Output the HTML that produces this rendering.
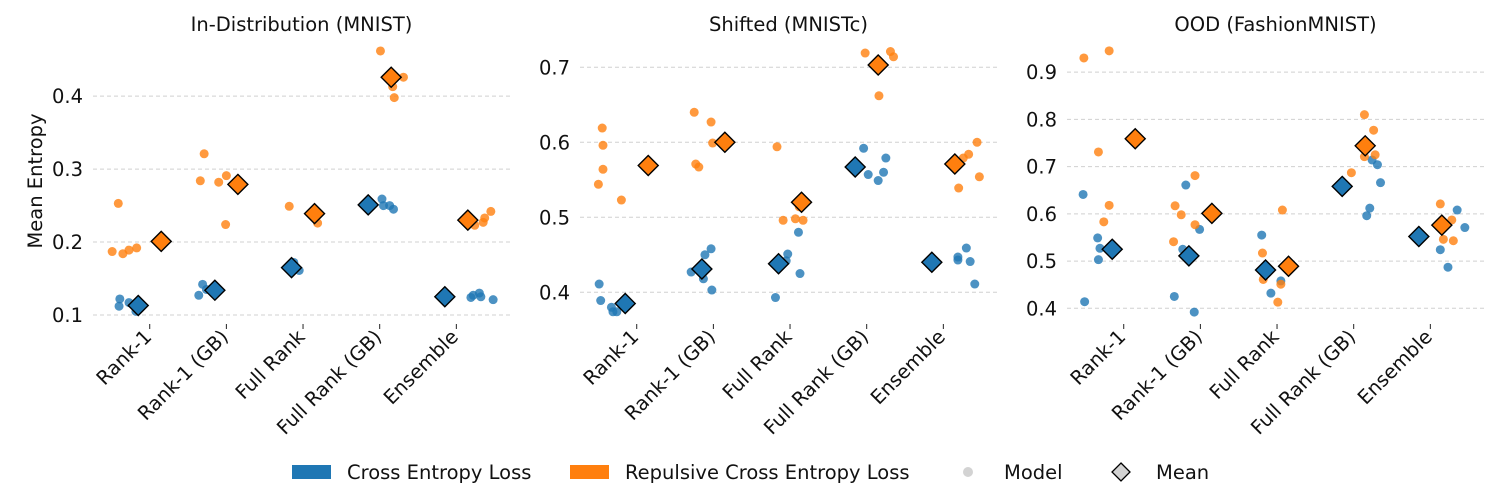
<!DOCTYPE html>
<html><head><meta charset="utf-8">
<style>
html,body{margin:0;padding:0;background:#fff;}
svg{display:block;font-family:"DejaVu Sans","Liberation Sans",sans-serif;}
</style></head>
<body>
<svg id="chart" width="1500" height="500" viewBox="0 0 1500 500" xmlns="http://www.w3.org/2000/svg">
<text transform="translate(42,181) rotate(-90)" text-anchor="middle" font-size="19.5" fill="#111">Mean Entropy</text>
<g font-size="19.5" fill="#111">
<rect x="292" y="465" width="39" height="14" fill="#1f77b4"/>
<text x="347" y="479">Cross Entropy Loss</text>
<rect x="570" y="465" width="39" height="14" fill="#ff7f0e"/>
<text x="625" y="479">Repulsive Cross Entropy Loss</text>
<circle cx="968" cy="472" r="5" fill="#d3d3d3"/>
<text x="1004" y="479">Model</text>
<polygon points="1121,463 1130,472 1121,481 1112,472" fill="#d3d3d3" stroke="#000" stroke-width="1.3"/>
<text x="1156" y="479">Mean</text>
</g>
</svg>
<script>
const categories = ["Rank-1","Rank-1 (GB)","Full Rank","Full Rank (GB)","Ensemble"];
const panelTitles = ["In-Distribution (MNIST)","Shifted (MNISTc)","OOD (FashionMNIST)"];
const yTicks = [[0.1,0.2,0.3,0.4],[0.4,0.5,0.6,0.7],[0.4,0.5,0.6,0.7,0.8,0.9]];
const yTickLabels = [["0.1","0.2","0.3","0.4"],["0.4","0.5","0.6","0.7"],["0.4","0.5","0.6","0.7","0.8","0.9"]];
const yLims = [[0.0904,0.477],[0.3604,0.7364],[0.371,0.968]];

const ceVals = [
 [[0.122,0.112,0.117,0.105],[0.142,0.127,0.135],[0.172,0.161,0.165],[0.259,0.250,0.250,0.245],[0.124,0.127,0.130,0.125,0.121]],
 [[0.411,0.389,0.380,0.374,0.374],[0.427,0.450,0.458,0.418,0.403],[0.393,0.451,0.442,0.480,0.425],[0.592,0.557,0.549,0.560,0.579],[0.447,0.443,0.459,0.441,0.411]],
 [[0.641,0.549,0.527,0.503,0.414],[0.661,0.567,0.525,0.425,0.392],[0.555,0.458,0.432],[0.714,0.704,0.666,0.612,0.596],[0.608,0.571,0.524,0.487]]
];
const ceJitter = [
 [[-0.39,-0.40,-0.27,-0.18],[-0.31,-0.36,-0.26],[-0.12,-0.05,-0.18],[0.03,0.05,0.13,0.18],[0.19,0.22,0.30,0.32,0.48]],
 [[-0.49,-0.47,-0.33,-0.31,-0.26],[-0.29,-0.11,-0.03,-0.13,-0.02],[-0.19,-0.03,-0.05,0.11,0.13],[-0.04,0.02,0.15,0.22,0.25],[0.19,0.19,0.30,0.35,0.41]],
 [[-0.53,-0.34,-0.31,-0.33,-0.51],[-0.19,-0.01,-0.23,-0.34,-0.08],[-0.20,0.05,-0.08],[0.24,0.31,0.35,0.21,0.17],[0.35,0.45,0.13,0.23]]
];
const ceMeans = [[0.113,0.134,0.165,0.251,0.125],[0.385,0.431,0.438,0.567,0.440],[0.525,0.511,0.481,0.658,0.552]];

const rceVals = [
 [[0.253,0.187,0.184,0.189,0.192],[0.321,0.284,0.282,0.291,0.224],[0.249,0.226,0.235],[0.462,0.413,0.398,0.426,0.427],[0.242,0.233,0.227,0.223]],
 [[0.619,0.596,0.564,0.544,0.523],[0.640,0.627,0.599,0.571,0.567],[0.594,0.496,0.498,0.496,0.514],[0.719,0.721,0.714,0.662],[0.600,0.584,0.579,0.554,0.539]],
 [[0.930,0.945,0.731,0.618,0.583],[0.681,0.617,0.598,0.577,0.541],[0.608,0.517,0.461,0.451,0.413],[0.810,0.777,0.721,0.725,0.687],[0.621,0.587,0.546,0.543]]
];
const rceJitter = [
 [[-0.41,-0.49,-0.35,-0.27,-0.17],[-0.29,-0.34,-0.10,0.00,-0.01],[-0.18,0.19,0.17],[0.01,0.17,0.19,0.31,0.19],[0.45,0.37,0.35,0.24]],
 [[-0.45,-0.44,-0.44,-0.50,-0.20],[-0.25,-0.03,-0.01,-0.23,-0.19],[-0.17,-0.09,0.07,0.17,0.12],[-0.02,0.31,0.35,0.16],[0.44,0.33,0.26,0.47,0.20]],
 [[-0.52,-0.19,-0.33,-0.19,-0.26],[-0.07,-0.33,-0.25,-0.07,-0.35],[0.07,-0.19,-0.18,0.05,0.01],[0.14,0.26,0.14,0.28,-0.03],[0.13,0.28,0.17,0.30]]
];
const rceMeans = [[0.201,0.279,0.239,0.426,0.230],[0.569,0.600,0.520,0.703,0.571],[0.759,0.601,0.489,0.744,0.576]];

const NS = "http://www.w3.org/2000/svg";
const svg = document.getElementById("chart");
const panelLeft = [93,580,1067], panelW = 417, plotTop = 40, plotBottom = 322;
const xLim = [-0.74,4.70];
const BLUE = "#1f77b4", ORANGE = "#ff7f0e";
function mk(tag, attrs){const e=document.createElementNS(NS,tag);for(const k in attrs)e.setAttribute(k,attrs[k]);return e;}

for(let p=0;p<3;p++){
  const L = panelLeft[p];
  const xs = v => L + (v - xLim[0])/(xLim[1]-xLim[0])*panelW;
  const ys = v => plotBottom - (v - yLims[p][0])/(yLims[p][1]-yLims[p][0])*(plotBottom-plotTop);
  const g = mk("g",{});
  
  
  svg.appendChild(g);
  const t = mk("text",{x:L+panelW/2, y:31, "text-anchor":"middle","font-size":"19.5",fill:"#111"});
  
  
  t.textContent = panelTitles[p]; g.appendChild(t);
  yTicks[p].forEach((v,i)=>{
    const gl = mk("line",{x1:L,x2:L+panelW,y1:ys(v),y2:ys(v),stroke:"#d0d0d0","stroke-width":"1","stroke-dasharray":"4,3"});
    
    
    g.appendChild(gl);
    const tl = mk("text",{x:L-10,y:ys(v)+7,"text-anchor":"end","font-size":"19.5",fill:"#111"});
    
    
    tl.textContent = yTickLabels[p][i]; g.appendChild(tl);
  });
  categories.forEach((c,i)=>{
    const x = xs(i);
    const tk = mk("line",{x1:x,x2:x,y1:324,y2:329,stroke:"#222","stroke-width":"1"});
    
    
    g.appendChild(tk);
    const lb = mk("text",{transform:`translate(${x+3},${338}) rotate(-45)`,"text-anchor":"end","font-size":"19.5",fill:"#111"});
    
    
    lb.textContent = c; g.appendChild(lb);
  });
  const series = [[ceVals,ceJitter,ceMeans,BLUE,-0.15],[rceVals,rceJitter,rceMeans,ORANGE,0.15]];
  series.forEach(([vals,jit,means,col,off])=>{
    vals[p].forEach((arr,i)=>{
      arr.forEach((v,k)=>{
        const c = mk("circle",{cx:xs(i+jit[p][i][k]),cy:ys(v),r:4.5,fill:col,"fill-opacity":"0.8"});
        
        
        g.appendChild(c);
      });
    });
  });
  series.forEach(([vals,jit,means,col,off])=>{
    means[p].forEach((m,i)=>{
      const cx = xs(i+off), cy = ys(m), d=10;
      const dm = mk("polygon",{points:`${cx},${cy-d} ${cx+d},${cy} ${cx},${cy+d} ${cx-d},${cy}`,fill:col,stroke:"#000","stroke-width":"1.4"});
      
      
      g.appendChild(dm);
    });
  });
}
</script>
</body></html>
